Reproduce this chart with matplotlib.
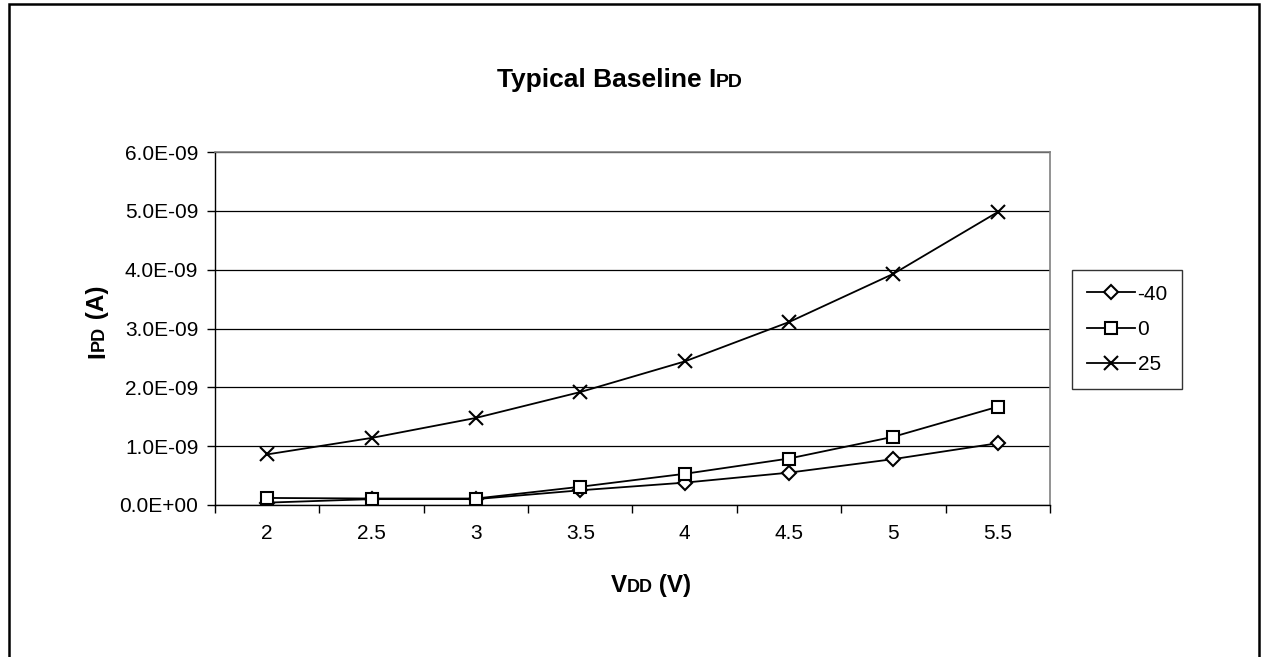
import numpy as np
import matplotlib
matplotlib.use('Agg')
import matplotlib.pyplot as plt
import matplotlib.ticker as mticker
from matplotlib.patches import Rectangle

plt.rcParams['font.family'] = ['Liberation Sans', 'DejaVu Sans']

# data
vdd = ['2', '2.5', '3', '3.5', '4', '4.5', '5', '5.5']
ipd_m40 = [0.04e-9, 0.10e-9, 0.10e-9, 0.25e-9, 0.38e-9, 0.55e-9, 0.78e-9, 1.05e-9]
ipd_0 = [0.12e-9, 0.11e-9, 0.11e-9, 0.31e-9, 0.53e-9, 0.79e-9, 1.16e-9, 1.67e-9]
ipd_25 = [0.86e-9, 1.14e-9, 1.48e-9, 1.92e-9, 2.44e-9, 3.11e-9, 3.93e-9, 4.98e-9]
series = [('-40', ipd_m40, 'D', 7.0), ('0', ipd_0, 's', 8.5), ('25', ipd_25, 'x', 9.5)]

W, H = 1262, 657
fig = plt.figure(figsize=(W / 100, H / 100), dpi=100)
ax = fig.add_axes([215 / W, 1 - 505 / H, (1050 - 215) / W, (505 - 152) / H])

x = np.arange(len(vdd))
for name, vals, mk, ms in series:
    ax.plot(x, vals, color='black', lw=1.3, marker=mk, ms=ms,
            mfc='white' if mk != 'x' else 'black', mec='black', mew=1.5, label=name)

ax.set_xlim(-0.5, len(vdd) - 0.5)
ax.set_ylim(0, 6e-9)
ax.set_yticks(np.arange(0, 6.01e-9, 1e-9))
ax.yaxis.set_major_formatter(mticker.FuncFormatter(lambda v, p: '%.1E' % v))
ax.set_xticks(x)
ax.set_xticklabels(vdd)
ax.set_xticks(np.arange(-0.5, len(vdd), 1.0), minor=True)
ax.tick_params(axis='x', which='major', length=0, pad=14, labelsize=15)
ax.tick_params(axis='x', which='minor', length=6, width=1, color='black', direction='out')
ax.tick_params(axis='y', length=6, width=1, direction='out', pad=6, labelsize=15)

ax.yaxis.grid(True, color='black', lw=0.9)
ax.set_axisbelow(True)
for s in ['top', 'right']:
    ax.spines[s].set_color('#808080')
    ax.spines[s].set_linewidth(1.2)
for s in ['left', 'bottom']:
    ax.spines[s].set_color('black')
    ax.spines[s].set_linewidth(1.0)

leg = ax.legend(loc='upper left', bbox_to_anchor=(1072 / W, 1 - 270 / H),
                bbox_transform=fig.transFigure, borderaxespad=0, fontsize=15,
                frameon=True, fancybox=False, edgecolor='black', numpoints=1,
                handlelength=2.3, handletextpad=0.15, labelspacing=0.78, borderpad=0.7)
leg.get_frame().set_linewidth(1.0)


def mixed(parts, px, py, rotation=0, ha='center'):
    # draw pieces of text with different sizes along one baseline
    r = fig.canvas.get_renderer()
    sizes = []
    for s, fs in parts:
        t = fig.text(0, 0, s, fontsize=fs, fontweight='bold')
        sizes.append(t.get_window_extent(r).width)
        t.remove()
    total = sum(sizes)
    off = -total / 2 if ha == 'center' else 0
    for (s, fs), w in zip(parts, sizes):
        if rotation == 0:
            xx, yy = px + off, py
        else:
            xx, yy = px, py - off
        fig.text(xx / W, 1 - yy / H, s, fontsize=fs, fontweight='bold',
                 rotation=rotation, rotation_mode='anchor', ha='left', va='baseline')
        off += w


mixed([('Typical Baseline I', 19), ('PD', 14)], 620, 87)
mixed([('V', 17.5), ('DD', 13), (' (V)', 17.5)], 651, 592)
mixed([('I', 17.5), ('PD', 13), (' (A)', 17.5)], 104, 322, rotation=90)

fig.patches.append(Rectangle((8.5 / W, -0.05), (1259 - 8.5) / W, 1.05 - 3.5 / H,
                             transform=fig.transFigure, fill=False, lw=1.8,
                             edgecolor='black', clip_on=False))

fig.savefig('out.png', dpi=100)
